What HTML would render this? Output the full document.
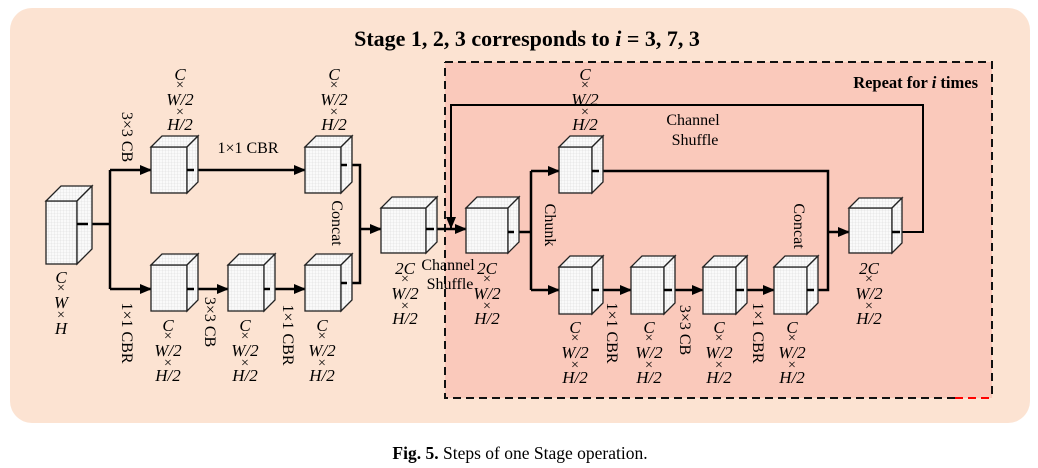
<!DOCTYPE html>
<html><head><meta charset="utf-8"><style>
html,body{margin:0;padding:0;background:#fff;}
svg{display:block;}
.d{font-family:"Liberation Serif",serif;font-style:italic;font-size:17px;text-anchor:middle;}
.x{font-family:"Liberation Serif",serif;font-size:14px;text-anchor:middle;}
.l{font-family:"Liberation Serif",serif;font-size:16px;}
</style></head><body>
<svg width="1038" height="468" viewBox="0 0 1038 468" xmlns="http://www.w3.org/2000/svg">
<defs>
<pattern id="g" width="3" height="3" patternUnits="userSpaceOnUse"><rect width="3" height="3" fill="#fafafa"/><path d="M0 0H3M0 0V3" stroke="#d8d8d8" stroke-width="0.6"/></pattern>
<marker id="a" markerWidth="12" markerHeight="10" refX="11" refY="5" orient="auto" markerUnits="userSpaceOnUse"><path d="M0,0 L12,5 L0,10 Z" fill="#000"/></marker>
</defs>
<rect x="10" y="8" width="1020" height="415" rx="22" fill="#fce3d2"/>
<rect x="445" y="62" width="547" height="336" fill="#fac9bb"/>
<path d="M445,62 H992 V398 M955,398 H445 V62" fill="none" stroke="#111" stroke-width="2" stroke-dasharray="8,5"/>
<path d="M955,398 H992" stroke="#f00" stroke-width="2" stroke-dasharray="8,5"/>
<text x="527" y="46" text-anchor="middle" style="font-family:'Liberation Serif',serif;font-weight:bold;font-size:22px">Stage 1, 2, 3 corresponds to <tspan font-style="italic">i</tspan> = 3, 7, 3</text>
<text x="978" y="88" text-anchor="end" style="font-family:'Liberation Serif',serif;font-weight:bold;font-size:16.5px">Repeat for <tspan font-style="italic">i</tspan> times</text>
<text x="520" y="459" text-anchor="middle" style="font-family:'Liberation Serif',serif;font-size:17.5px"><tspan font-weight="bold">Fig. 5.</tspan>  Steps of one Stage operation.</text>

<g fill="none" stroke="#000" stroke-width="2.5">
<path d="M77,224 H110 M110,170 V289"/>
<path d="M110,170 H151" marker-end="url(#a)"/>
<path d="M110,289 H151" marker-end="url(#a)"/>
<path d="M192,170 H305" marker-end="url(#a)"/>
<path d="M192,289 H228" marker-end="url(#a)"/>
<path d="M268,289 H305" marker-end="url(#a)"/>
<path d="M345,165 H360 V283 H345"/>
<path d="M360,229 H381" marker-end="url(#a)"/>
<path d="M432,229 H466" marker-end="url(#a)"/>
<path d="M898,232 H923 V105 H451 V228" stroke-width="2" marker-end="url(#a)"/>
<path d="M512,232 H531 M531,171 V290"/>
<path d="M531,171 H559" marker-end="url(#a)"/>
<path d="M531,290 H559" marker-end="url(#a)"/>
<path d="M597,171 H828 V290 H812"/>
<path d="M828,232 H849" marker-end="url(#a)"/>
<path d="M597,290 H631" marker-end="url(#a)"/>
<path d="M670,290 H703" marker-end="url(#a)"/>
<path d="M742,290 H774" marker-end="url(#a)"/>
</g>

<g fill="url(#g)" stroke="#222" stroke-width="1.3">
<rect x="46" y="201" width="31" height="63"/><polygon points="46,201 61,186 92,186 77,201"/><polygon points="77,201 92,186 92,249 77,264"/>
<rect x="151" y="147" width="36" height="46"/><polygon points="151,147 162,136 198,136 187,147"/><polygon points="187,147 198,136 198,182 187,193"/>
<rect x="305" y="147" width="36" height="46"/><polygon points="305,147 316,136 352,136 341,147"/><polygon points="341,147 352,136 352,182 341,193"/>
<rect x="151" y="265" width="36" height="46"/><polygon points="151,265 162,254 198,254 187,265"/><polygon points="187,265 198,254 198,300 187,311"/>
<rect x="228" y="265" width="36" height="46"/><polygon points="228,265 239,254 275,254 264,265"/><polygon points="264,265 275,254 275,300 264,311"/>
<rect x="305" y="265" width="36" height="46"/><polygon points="305,265 316,254 352,254 341,265"/><polygon points="341,265 352,254 352,300 341,311"/>
<rect x="381" y="208" width="45" height="45"/><polygon points="381,208 392,197 437,197 426,208"/><polygon points="426,208 437,197 437,242 426,253"/>
<rect x="466" y="208" width="42" height="45"/><polygon points="466,208 477,197 519,197 508,208"/><polygon points="508,208 519,197 519,242 508,253"/>
<rect x="559" y="147" width="33" height="46"/><polygon points="559,147 570,136 603,136 592,147"/><polygon points="592,147 603,136 603,182 592,193"/>
<rect x="559" y="267" width="33" height="47"/><polygon points="559,267 570,256 603,256 592,267"/><polygon points="592,267 603,256 603,303 592,314"/>
<rect x="631" y="267" width="33" height="47"/><polygon points="631,267 642,256 675,256 664,267"/><polygon points="664,267 675,256 675,303 664,314"/>
<rect x="703" y="267" width="33" height="47"/><polygon points="703,267 714,256 747,256 736,267"/><polygon points="736,267 747,256 747,303 736,314"/>
<rect x="774" y="267" width="33" height="47"/><polygon points="774,267 785,256 818,256 807,267"/><polygon points="807,267 818,256 818,303 807,314"/>
<rect x="849" y="208" width="43" height="45"/><polygon points="849,208 859,198 902,198 892,208"/><polygon points="892,208 902,198 902,243 892,253"/>
</g>
<g fill="#000" stroke="#000" stroke-width="2.5">
<path d="M77,224 H88"/><path d="M187,170 H194"/><path d="M187,289 H194"/><path d="M264,289 H270"/><path d="M341,165 H347"/><path d="M341,283 H347"/><path d="M426,229 H434"/><path d="M508,232 H514"/><path d="M592,171 H599"/><path d="M592,290 H599"/><path d="M664,290 H672"/><path d="M736,290 H744"/><path d="M807,290 H814"/><path d="M892,232 H900"/>
</g>

<g>
<text class="d" x="61" y="283">C</text><text class="x" x="61" y="292">×</text><text class="d" x="61" y="308">W</text><text class="x" x="61" y="319">×</text><text class="d" x="61" y="334">H</text>

<text class="d" x="180" y="80">C</text><text class="x" x="180" y="89">×</text><text class="d" x="180" y="105">W/2</text><text class="x" x="180" y="116">×</text><text class="d" x="180" y="130">H/2</text>
<text class="d" x="334" y="80">C</text><text class="x" x="334" y="89">×</text><text class="d" x="334" y="105">W/2</text><text class="x" x="334" y="116">×</text><text class="d" x="334" y="130">H/2</text>
<text class="d" x="585" y="80">C</text><text class="x" x="585" y="89">×</text><text class="d" x="585" y="105">W/2</text><text class="x" x="585" y="116">×</text><text class="d" x="585" y="130">H/2</text>

<text class="d" x="168" y="331">C</text><text class="x" x="168" y="340">×</text><text class="d" x="168" y="356">W/2</text><text class="x" x="168" y="367">×</text><text class="d" x="168" y="381">H/2</text>
<text class="d" x="245" y="331">C</text><text class="x" x="245" y="340">×</text><text class="d" x="245" y="356">W/2</text><text class="x" x="245" y="367">×</text><text class="d" x="245" y="381">H/2</text>
<text class="d" x="322" y="331">C</text><text class="x" x="322" y="340">×</text><text class="d" x="322" y="356">W/2</text><text class="x" x="322" y="367">×</text><text class="d" x="322" y="381">H/2</text>

<text class="d" x="405" y="274">2C</text><text class="x" x="405" y="283">×</text><text class="d" x="405" y="299">W/2</text><text class="x" x="405" y="310">×</text><text class="d" x="405" y="324">H/2</text>
<text class="d" x="487" y="274">2C</text><text class="x" x="487" y="283">×</text><text class="d" x="487" y="299">W/2</text><text class="x" x="487" y="310">×</text><text class="d" x="487" y="324">H/2</text>
<text class="d" x="869" y="274">2C</text><text class="x" x="869" y="283">×</text><text class="d" x="869" y="299">W/2</text><text class="x" x="869" y="310">×</text><text class="d" x="869" y="324">H/2</text>

<text class="d" x="575" y="333">C</text><text class="x" x="575" y="342">×</text><text class="d" x="575" y="358">W/2</text><text class="x" x="575" y="369">×</text><text class="d" x="575" y="383">H/2</text>
<text class="d" x="649" y="333">C</text><text class="x" x="649" y="342">×</text><text class="d" x="649" y="358">W/2</text><text class="x" x="649" y="369">×</text><text class="d" x="649" y="383">H/2</text>
<text class="d" x="719" y="333">C</text><text class="x" x="719" y="342">×</text><text class="d" x="719" y="358">W/2</text><text class="x" x="719" y="369">×</text><text class="d" x="719" y="383">H/2</text>
<text class="d" x="792" y="333">C</text><text class="x" x="792" y="342">×</text><text class="d" x="792" y="358">W/2</text><text class="x" x="792" y="369">×</text><text class="d" x="792" y="383">H/2</text>
</g>

<text class="l" x="248" y="153" text-anchor="middle">1×1 CBR</text>
<text class="l" x="448" y="270" text-anchor="middle">Channel</text>
<text class="l" x="450" y="289" text-anchor="middle">Shuffle</text>
<text class="l" x="693" y="125" text-anchor="middle">Channel</text>
<text class="l" x="695" y="145" text-anchor="middle">Shuffle</text>
<g class="l" text-anchor="middle">
<text transform="translate(122,137) rotate(90)">3×3 CB</text>
<text transform="translate(122,333) rotate(90)">1×1 CBR</text>
<text transform="translate(205,322) rotate(90)">3×3 CB</text>
<text transform="translate(283,335) rotate(90)">1×1 CBR</text>
<text transform="translate(332,223) rotate(90)">Concat</text>
<text transform="translate(545,225) rotate(90)">Chunk</text>
<text transform="translate(607,333) rotate(90)">1×1 CBR</text>
<text transform="translate(680,330) rotate(90)">3×3 CB</text>
<text transform="translate(753,333) rotate(90)">1×1 CBR</text>
<text transform="translate(794,226) rotate(90)">Concat</text>
</g>
</svg>
</body></html>
